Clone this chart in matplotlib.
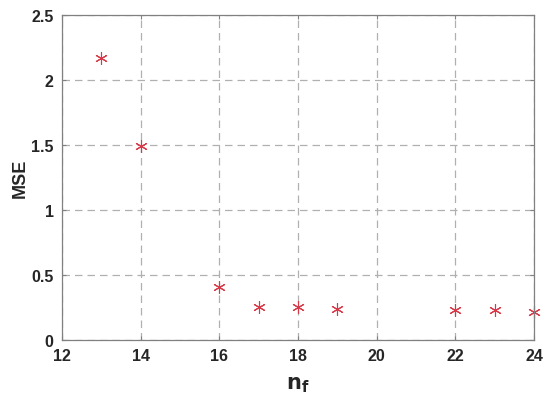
import matplotlib
matplotlib.use("Agg")
import matplotlib.pyplot as plt

nf = [13, 14, 16, 17, 18, 19, 22, 23, 24]
mse = [2.17, 1.49, 0.41, 0.25, 0.254, 0.236, 0.23, 0.23, 0.215]
xticks = [12, 14, 16, 18, 20, 22, 24]
yticks = [0, 0.5, 1, 1.5, 2, 2.5]

plt.rcParams["font.family"] = ["Liberation Sans", "DejaVu Sans"]

fig = plt.figure(figsize=(5.5, 4.06), dpi=100)
ax = fig.add_axes([0.1127, 0.1601, 0.8582, 0.8005])

# MATLAB-style '*' marker: six-armed asterisk
ax.plot(nf, mse, linestyle="none", marker=(6, 2, 0), markersize=9,
        markerfacecolor="none", markeredgecolor="#d63a48", markeredgewidth=0.8,
        clip_on=False)

ax.set_xlim(12, 24)
ax.set_ylim(0, 2.5)
ax.set_xticks(xticks)
ax.set_yticks(yticks)
ax.set_yticklabels(["0", "0.5", "1", "1.5", "2", "2.5"])
ax.grid(True, linestyle=(0, (6, 4)), color="#b0b0b0", linewidth=0.9)
ax.set_axisbelow(True)

for s in ax.spines.values():
    s.set_color("#808080")
    s.set_linewidth(0.9)
ax.tick_params(direction="in", length=3, color="#808080", labelsize=11.5,
               top=True, right=True, pad=6)
for lbl in ax.get_xticklabels() + ax.get_yticklabels():
    lbl.set_fontweight("bold")
    lbl.set_color("#262626")

ax.set_xlabel(r"$\mathbf{n_f}$", fontsize=15, color="#262626", labelpad=8)
ax.set_ylabel("MSE", fontsize=13, fontweight="bold", color="#262626", labelpad=2)

fig.savefig("out.png", dpi=100)
